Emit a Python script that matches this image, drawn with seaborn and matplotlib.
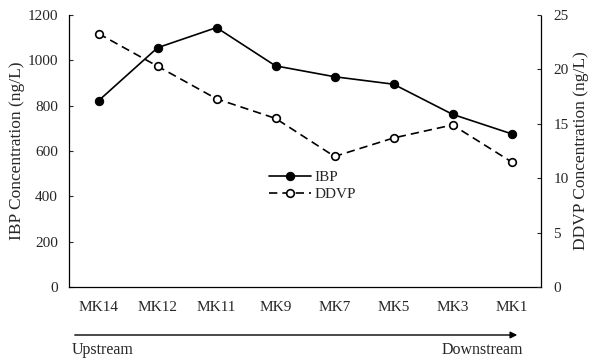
import matplotlib
matplotlib.use("Agg")
import matplotlib.pyplot as plt
import seaborn as sns
import pandas as pd
import numpy as np

sites = ["MK14", "MK12", "MK11", "MK9", "MK7", "MK5", "MK3", "MK1"]
ibp = [822, 1056, 1145, 976, 928, 895, 762, 676]
ddvp = [23.3, 20.3, 17.3, 15.5, 12.0, 13.7, 14.9, 11.5]
left_ticks = [0, 200, 400, 600, 800, 1000, 1200]
right_ticks = [0, 5, 10, 15, 20, 25]

sns.set_theme(style="white")
plt.rcParams["font.family"] = ["Liberation Serif", "DejaVu Serif"]
plt.rcParams["font.size"] = 11

df = pd.DataFrame({"pos": np.arange(len(sites)), "IBP": ibp, "DDVP": ddvp})

fig = plt.figure(figsize=(5.9, 3.6), dpi=100)
ax = fig.add_axes([0.117, 0.203, 0.800, 0.755])
ax2 = ax.twinx()

sns.lineplot(data=df, x="pos", y="IBP", ax=ax, color="black", lw=1.2,
             marker="o", markersize=6, markerfacecolor="black",
             markeredgecolor="black", label="IBP", legend=False)
sns.lineplot(data=df, x="pos", y="DDVP", ax=ax2, color="black", lw=1.2,
             linestyle=(0, (5, 3)), marker="o", markersize=5.5,
             markerfacecolor="white", markeredgecolor="black",
             markeredgewidth=1.2, label="DDVP", legend=False)

ax.set_xlim(-0.5, len(sites) - 0.5)
ax.set_ylim(0, 1200)
ax2.set_ylim(0, 25)
ax.set_yticks(left_ticks)
ax2.set_yticks(right_ticks)

# category labels centred, tick marks at category boundaries
ax.set_xticks(np.arange(len(sites)))
ax.set_xticklabels(sites, fontsize=11)
ax.tick_params(axis="x", which="major", length=0, pad=10)
ax.set_xticks(np.arange(len(sites) + 1) - 0.5, minor=True)
ax.tick_params(axis="x", which="minor", direction="in", length=3, width=0.8)
ax.tick_params(axis="y", direction="in", length=3, width=0.8, labelsize=11, pad=8)
ax2.tick_params(axis="y", direction="in", length=3, width=0.8, labelsize=11, pad=9)

for a in (ax, ax2):
    a.spines["top"].set_visible(False)
    for s in ("left", "right", "bottom"):
        a.spines[s].set_color("black")
        a.spines[s].set_linewidth(0.9)
ax.spines["right"].set_visible(False)
ax2.spines["left"].set_visible(False)
ax2.spines["bottom"].set_visible(False)
ax2.spines["right"].set_linestyle((0, (1, 1)))

ax.set_xlabel("")
ax.set_ylabel("IBP Concentration (ng/L)", fontsize=12.5, labelpad=6)
ax2.set_ylabel("DDVP Concentration (ng/L)", fontsize=12.5, labelpad=8)
ax.yaxis.set_label_coords(-0.093, 0.5)
ax2.yaxis.set_label_coords(1.068, 0.5)

h1, l1 = ax.get_legend_handles_labels()
h2, l2 = ax2.get_legend_handles_labels()
ax.legend(h1 + h2, l1 + l2, loc="upper left", bbox_to_anchor=(0.41, 0.45),
          frameon=False, fontsize=11, handlelength=2.8, handletextpad=0.2,
          labelspacing=0.2, borderaxespad=0)

# flow direction arrow under the axis
fig.add_artist(matplotlib.patches.FancyArrowPatch(
    (72 / 590, 1 - 335 / 360), (520 / 590, 1 - 335 / 360),
    transform=fig.transFigure, arrowstyle="-|>", mutation_scale=10,
    color="black", lw=1.0))
fig.text(72 / 590, 1 - 350 / 360, "Upstream", ha="left", va="center", fontsize=11.5)
fig.text(523 / 590, 1 - 350 / 360, "Downstream", ha="right", va="center", fontsize=11.5)

fig.savefig("out.png", dpi=100)
